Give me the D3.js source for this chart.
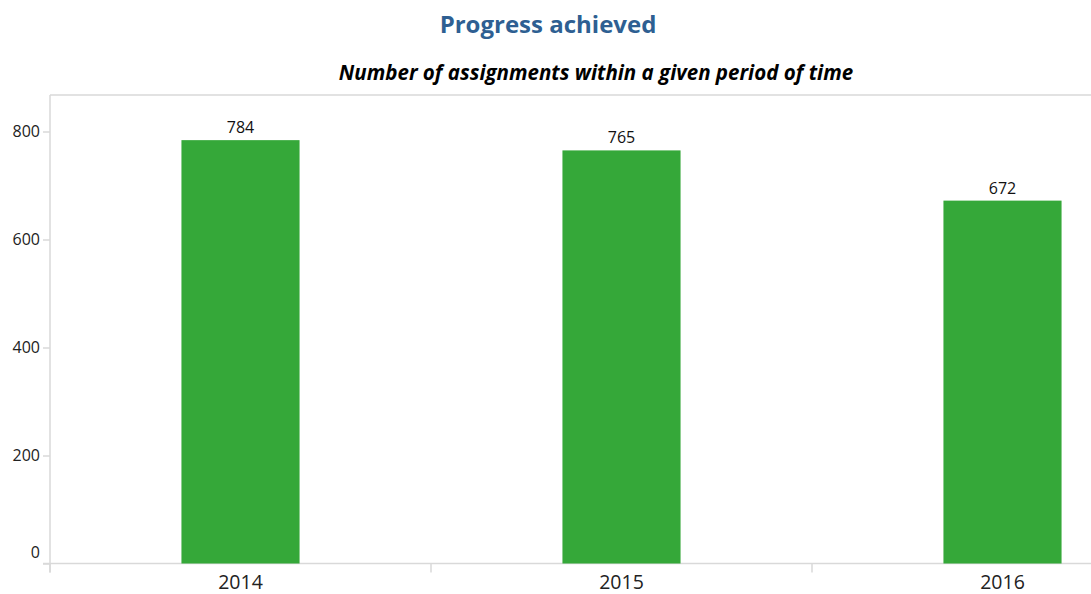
<!DOCTYPE html>
<html>
<head>
<meta charset="utf-8">
<script src="https://cdn.jsdelivr.net/npm/d3@7"></script>
<style>
  body { margin: 0; background: #fff; }
  svg { display: block; }
</style>
</head>
<body>
<div id="chart"></div>
<script>
// chart data
var years = ["2014", "2015", "2016"];
var assignments = [784, 765, 672];
var yTicks = [0, 200, 400, 600, 800];

var svgWidth = 1091;
var svgHeight = 594;

// plot area (right side runs off the picture)
var plotLeft = 50, plotTop = 95, plotBottom = 563.5, plotRight = 1193;

var svg = d3.select("#chart").append("svg")
  .attr("width", svgWidth)
  .attr("height", svgHeight);

var xScale = d3.scaleBand()
  .domain(years)
  .range([plotLeft, plotRight])
  .padding(0);

var yScale = d3.scaleLinear()
  .domain([0, 800])
  .range([plotBottom, 131.5]);

var barWidth = xScale.bandwidth() * 0.31;
var gridColor = "#d9d9d9";

// titles
svg.append("text")
  .attr("x", 548)
  .attr("y", 33)
  .attr("text-anchor", "middle")
  .attr("font-family", "'Open Sans', sans-serif")
  .attr("font-size", "24px")
  .attr("font-weight", "bold")
  .attr("fill", "#2e5f92")
  .text("Progress achieved");

svg.append("text")
  .attr("x", 596)
  .attr("y", 80)
  .attr("text-anchor", "middle")
  .attr("font-family", "'Open Sans', sans-serif")
  .attr("font-size", "20.5px")
  .attr("font-weight", "bold")
  .attr("font-style", "italic")
  .attr("fill", "#000")
  .text("Number of assignments within a given period of time");

// frame lines
svg.append("line")
  .attr("x1", plotLeft).attr("x2", svgWidth)
  .attr("y1", plotTop).attr("y2", plotTop)
  .attr("stroke", gridColor).attr("stroke-width", 1.5);

svg.append("line")
  .attr("x1", plotLeft).attr("x2", plotLeft)
  .attr("y1", plotTop).attr("y2", plotBottom + 9)
  .attr("stroke", gridColor).attr("stroke-width", 1.5);

// y axis
var yAxis = d3.axisLeft(yScale)
  .tickValues(yTicks)
  .tickSize(7)
  .tickPadding(3);

var yg = svg.append("g")
  .attr("transform", `translate(${plotLeft}, 0)`)
  .call(yAxis);

yg.select(".domain").remove();
yg.selectAll(".tick line").attr("stroke", gridColor).attr("stroke-width", 1.5);
yg.selectAll(".tick text")
  .attr("font-family", "'Open Sans', sans-serif")
  .attr("font-size", "16px")
  .attr("fill", "#222")
  .attr("dy", d => d === 0 ? "-0.4em" : "0.32em");

// x axis baseline and band separators
svg.append("line")
  .attr("x1", plotLeft - 7).attr("x2", svgWidth)
  .attr("y1", plotBottom).attr("y2", plotBottom)
  .attr("stroke", gridColor).attr("stroke-width", 1.5);

svg.selectAll(".sep")
  .data(years)
  .enter().append("line")
  .attr("class", "sep")
  .attr("x1", d => xScale(d)).attr("x2", d => xScale(d))
  .attr("y1", plotBottom).attr("y2", plotBottom + 9)
  .attr("stroke", gridColor).attr("stroke-width", 1.5);

svg.selectAll(".year")
  .data(years)
  .enter().append("text")
  .attr("class", "year")
  .attr("x", d => xScale(d) + xScale.bandwidth() / 2)
  .attr("y", 588.5)
  .attr("text-anchor", "middle")
  .attr("font-family", "'Open Sans', sans-serif")
  .attr("font-size", "19.5px")
  .attr("fill", "#222")
  .text(d => d);

// bars
svg.selectAll(".bar")
  .data(assignments)
  .enter().append("rect")
  .attr("class", "bar")
  .attr("x", (d, i) => xScale(years[i]) + xScale.bandwidth() / 2 - barWidth / 2)
  .attr("y", d => yScale(d))
  .attr("width", barWidth)
  .attr("height", d => plotBottom - yScale(d))
  .attr("fill", "#35a839");

// value labels
svg.selectAll(".val")
  .data(assignments)
  .enter().append("text")
  .attr("class", "val")
  .attr("x", (d, i) => xScale(years[i]) + xScale.bandwidth() / 2)
  .attr("y", d => yScale(d) - 7)
  .attr("text-anchor", "middle")
  .attr("font-family", "'Open Sans', sans-serif")
  .attr("font-size", "16px")
  .attr("fill", "#111")
  .text(d => d);
</script>
</body>
</html>
